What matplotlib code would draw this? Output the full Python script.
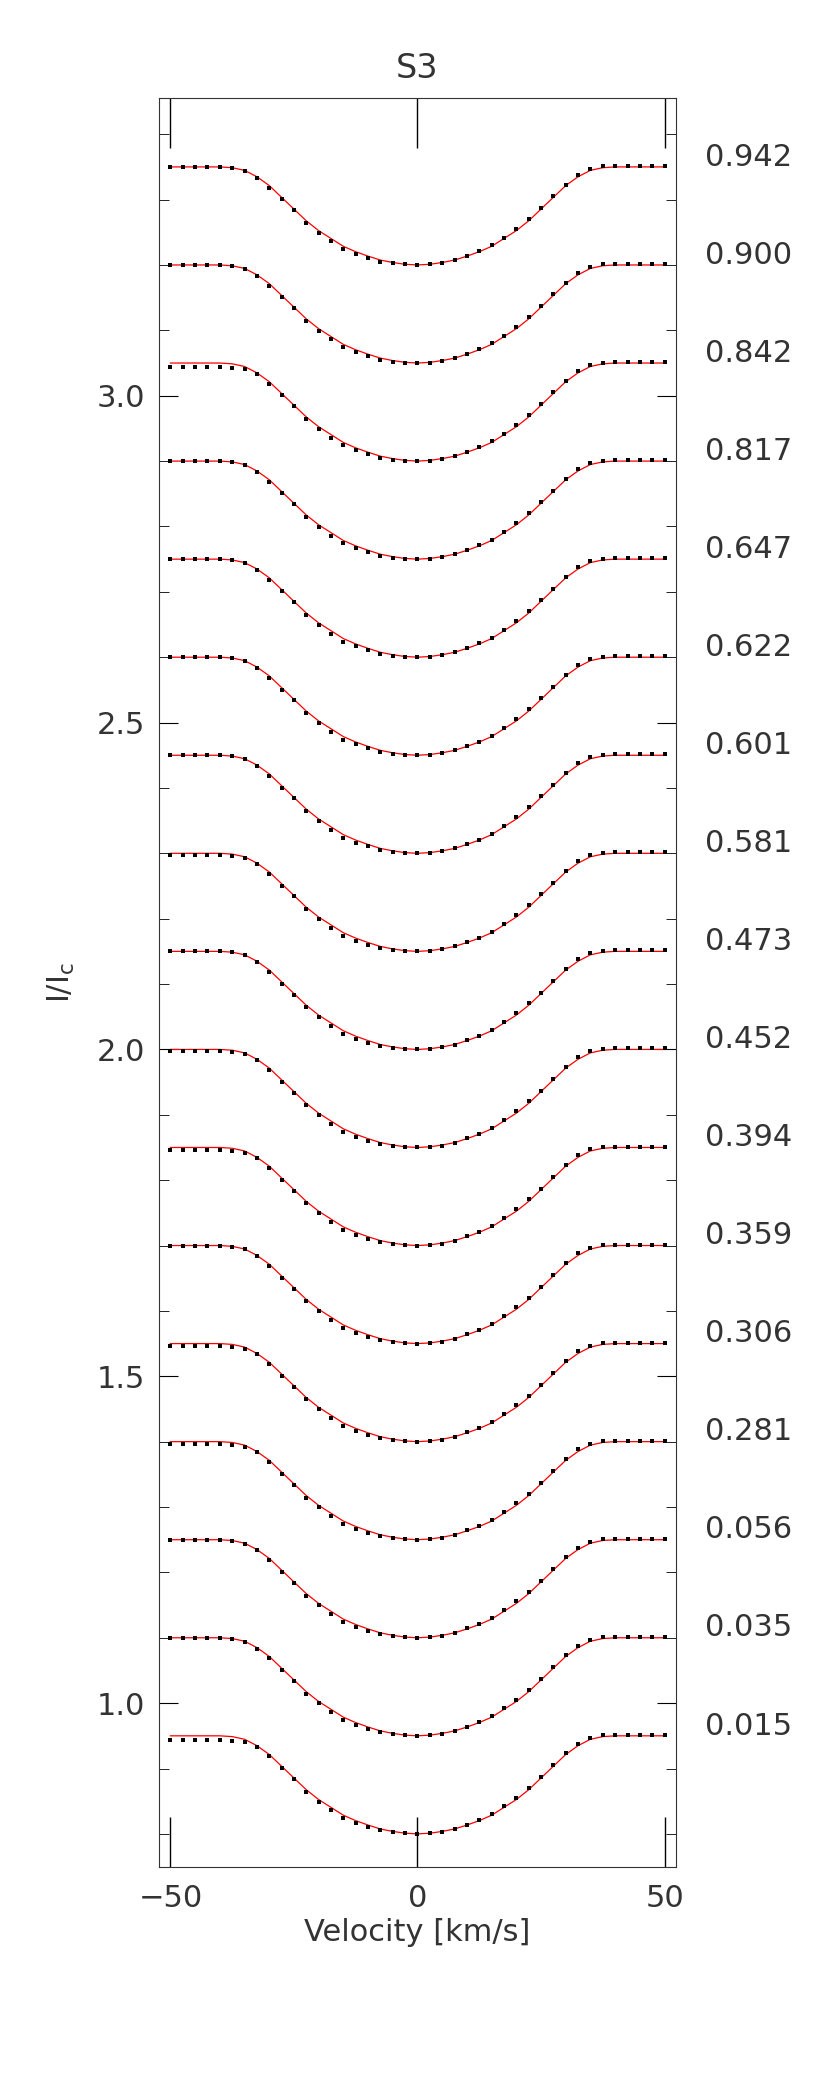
import numpy as np
import matplotlib
matplotlib.use("Agg")
import matplotlib.pyplot as plt

phases = ["0.015","0.035","0.056","0.281","0.306","0.359","0.394","0.452","0.473",
          "0.581","0.601","0.622","0.647","0.817","0.842","0.900","0.942"]
offsets = [0.95 + 0.15*i for i in range(len(phases))]
depth = 0.15
velocity = list(np.arange(-50, 50.01, 2.5))
# model profile depth fraction (symmetric), read at v=0..50 step 2.5
model_half = [1.0,0.993,0.975,0.95,0.91,0.865,0.81,0.73,0.65,0.55,0.43,0.31,0.19,0.10,0.035,0.008,0,0,0,0,0]
model = model_half[::-1][:-1] + model_half
# observed profile depth fraction, v=-50..50 step 2.5
observed = [0.0,0.0,0.0,0.0,0.0,0.01,0.04,0.11,0.21,0.33,0.44,0.57,0.67,0.76,0.84,0.89,0.93,0.965,0.985,0.995,1.0,
            0.995,0.98,0.95,0.905,0.86,0.80,0.72,0.63,0.53,0.42,0.30,0.18,0.08,0.02,-0.005,-0.01,-0.01,-0.01,-0.01,-0.01]
# per-phase continuum shift of left wing of observations (fraction)
left_shift = [0.045,0.005,0.0,0.02,0.02,0.0,0.03,0.02,0.0,0.02,0.0,0.0,0.0,0.0,0.04,0.0,0.0]

fig = plt.figure(figsize=(8.3, 20.77), dpi=100)
ax = fig.add_axes([0.191, 0.101, 0.624, 0.852])
v = np.array(velocity)
m = np.array(model)
o = np.array(observed)
ramp = np.clip((-32.5 - v) / 5.0, 0, 1)
for off, ph, ls in zip(offsets, phases, left_shift):
    ax.plot(v, off - depth*m, color='red', lw=0.9, zorder=2)
    ax.plot(v, off - depth*(o + ls*ramp), ls='none', marker='s', ms=2.8, mew=0,
            color='black', zorder=3)
    ax.text(1.055, off + 0.015, ph, transform=ax.get_yaxis_transform(), fontsize=22,
            color='#333333', va='center', ha='left')

ax.set_xlim(-52.4, 52.4)
ax.set_ylim(0.749, 3.456)
ax.set_xticks([-50, 0, 50])
ax.set_xticklabels(["\u221250", "0", "50"])
ax.set_yticks([1.0, 1.5, 2.0, 2.5, 3.0])
ax.set_yticks(np.arange(0.8, 3.45, 0.1), minor=True)
ax.tick_params(axis='x', direction='in', length=36, top=True, width=1, labelsize=22,
               labelcolor='#333333', pad=12)
ax.tick_params(axis='y', which='major', direction='in', length=14, right=True, labelsize=22,
               labelcolor='#333333', pad=10)
ax.tick_params(axis='y', which='minor', direction='in', length=7, right=True)
for s in ax.spines.values():
    s.set_color('#333333')
ax.set_xlabel("Velocity [km/s]", fontsize=22, color='#333333')
ax.set_ylabel("I/I$_\\mathrm{c}$", fontsize=22, color='#333333', labelpad=14)
ax.set_title("S3", fontsize=24, color='#333333', pad=14)
fig.savefig("out.png", dpi=100)
